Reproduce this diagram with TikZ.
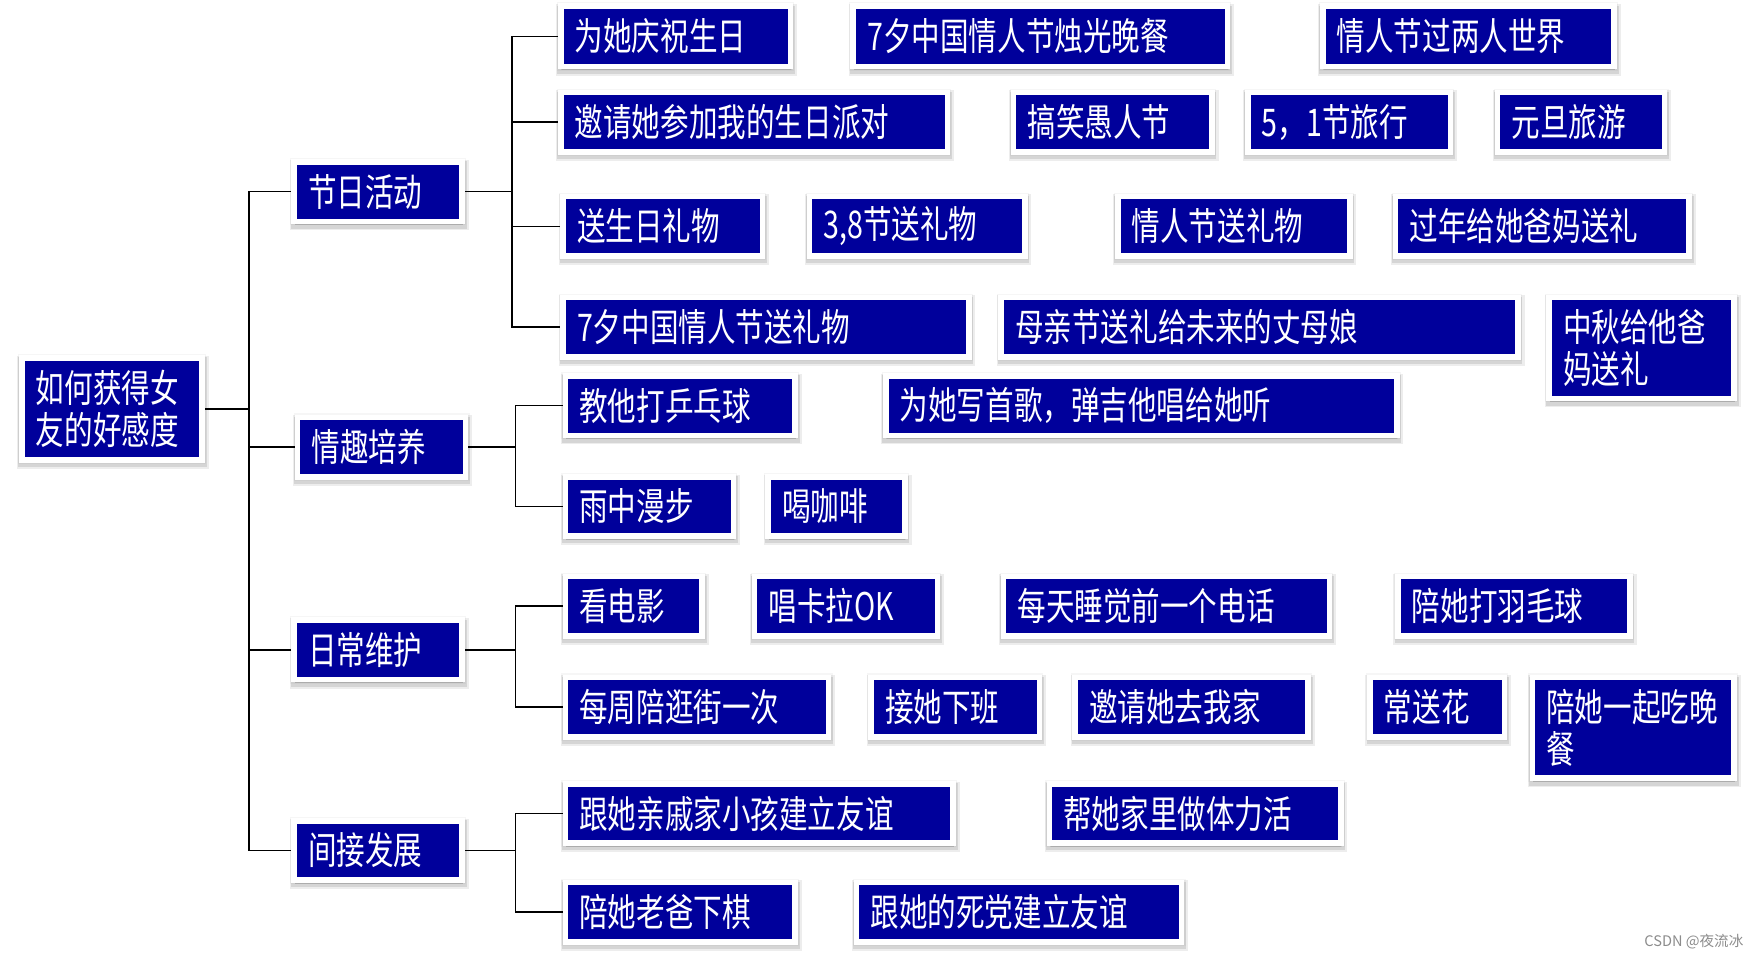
\documentclass[tikz,border=0pt]{standalone}
\usepackage{fontspec}
\newfontfamily\cjk{Noto Sans CJK SC}[FakeStretch=0.75]
\newfontfamily\cjkplain{Noto Sans CJK SC}
\usetikzlibrary{shadows}
\definecolor{boxblue}{RGB}{0,0,155}
\newcommand{\bx}[6]{%
  \pgfmathsetmacro{\bxw}{#4-#2+5}%
  \pgfmathsetmacro{\bxh}{#5-#3+5}%
  \pgfmathsetmacro{\bxt}{#4-#2-20}%
  \node[box, minimum width=\bxw pt, minimum height=\bxh pt, text width=\bxt pt, anchor=north west] (#1) at ({#2-5},{#3-5}) {#6};%
}
\begin{document}
\begin{tikzpicture}[x=1pt,y=-1pt,
  box/.style={fill=boxblue, draw=white, line width=5pt, text=white, align=left,
    inner xsep=12.5pt, inner ysep=0pt,
    font=\cjk\fontsize{34pt}{38pt}\selectfont,
    general shadow={draw=black, fill=black, line width=7pt, opacity=0.035},
    general shadow={draw=black, fill=black, line width=10pt, opacity=0.07, shadow xshift=1pt, shadow yshift=-3pt},
    general shadow={draw=black, fill=black, line width=7pt, opacity=0.10, shadow xshift=0.5pt, shadow yshift=-3pt}},
  conn/.style={draw=black, line width=1.4pt}]
\useasboundingbox (0,0) rectangle (1568,854);
% root and level 1
\bx{root}{22}{322}{178}{408}{如何获得女\\友的好感度}
\bx{l1}{265}{147}{410}{195}{节日活动}
\bx{l2}{268}{375}{413}{423}{情趣培养}
\bx{l3}{265}{556}{410}{604}{日常维护}
\bx{l4}{265}{735}{410}{783}{间接发展}
% level 2
\bx{a1}{503}{8}{703}{57}{为她庆祝生日}
\bx{a2}{764}{8}{1093}{57}{7夕中国情人节烛光晚餐}
\bx{a3}{1183}{8}{1438}{57}{情人节过两人世界}
\bx{b1}{503}{85}{843}{133}{邀请她参加我的生日派对}
\bx{b2}{907}{85}{1079}{133}{搞笑愚人节}
\bx{b3}{1116}{85}{1292}{133}{5，1节旅行}
\bx{b4}{1339}{85}{1483}{133}{元旦旅游}
\bx{c1}{505}{178}{678}{226}{送生日礼物}
\bx{c2}{725}{178}{912}{226}{3,8节送礼物}
\bx{c3}{1000}{178}{1202}{226}{情人节送礼物}
\bx{c4}{1248}{178}{1505}{226}{过年给她爸妈送礼}
\bx{d1}{505}{268}{862}{316}{7夕中国情人节送礼物}
\bx{d2}{896}{268}{1352}{316}{母亲节送礼给未来的丈母娘}
\bx{d3}{1385}{268}{1545}{353}{中秋给他爸\\妈送礼}
\bx{e1}{507}{338}{707}{386}{教他打乒乓球}
\bx{e2}{793}{338}{1244}{386}{为她写首歌，弹吉他唱给她听}
\bx{f1}{507}{428}{652}{476}{雨中漫步}
\bx{f2}{688}{428}{805}{476}{喝咖啡}
\bx{g1}{507}{517}{624}{565}{看电影}
\bx{g2}{676}{517}{834}{565}{唱卡拉OK}
\bx{g3}{898}{517}{1184}{565}{每天睡觉前一个电话}
\bx{g4}{1250}{517}{1452}{565}{陪她打羽毛球}
\bx{h1}{507}{607}{737}{655}{每周陪逛街一次}
\bx{h2}{780}{607}{925}{655}{接她下班}
\bx{h3}{962}{607}{1165}{655}{邀请她去我家}
\bx{h4}{1225}{607}{1340}{655}{常送花}
\bx{h5}{1370}{607}{1545}{692}{陪她一起吃晚\\餐}
\bx{i1}{507}{702}{848}{750}{跟她亲戚家小孩建立友谊}
\bx{i2}{939}{702}{1194}{750}{帮她家里做体力活}
\bx{j1}{507}{790}{707}{838}{陪她老爸下棋}
\bx{j2}{767}{790}{1052}{838}{跟她的死党建立友谊}
% connectors
\coordinate (trunk) at (222,365);
\draw[conn] (root.east) -- (trunk) |- (l1.west);
\draw[conn] (trunk) |- (l2.west);
\draw[conn] (trunk) |- (l3.west);
\draw[conn] (trunk) |- (l4.west);
\coordinate (bus1) at (457,171);
\draw[conn] (l1.east) -- (bus1) |- (a1.west);
\draw[conn] (bus1) |- (b1.west);
\draw[conn] (bus1) |- (c1.west);
\draw[conn] (bus1) |- (d1.west);
\coordinate (bus2) at (460,399);
\draw[conn] (l2.east) -- (bus2) |- (e1.west);
\draw[conn] (bus2) |- (f1.west);
\coordinate (bus3) at (460,580);
\draw[conn] (l3.east) -- (bus3) |- (g1.west);
\draw[conn] (bus3) |- (h1.west);
\coordinate (bus4) at (460,759);
\draw[conn] (l4.east) -- (bus4) |- (i1.west);
\draw[conn] (bus4) |- (j1.west);
% watermark
\node[anchor=east, text=black!45, font=\cjkplain\fontsize{13pt}{15pt}\selectfont, inner sep=0pt] (wm) at (1556,840) {CSDN @夜流冰};
\end{tikzpicture}
\end{document}
